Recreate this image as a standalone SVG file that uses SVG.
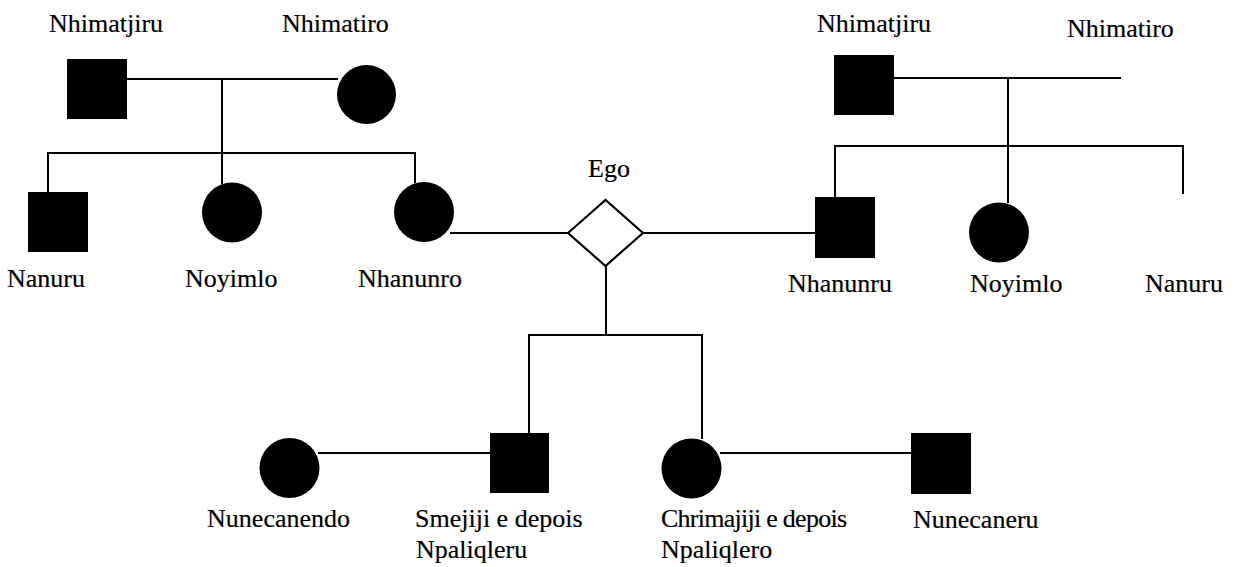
<svg xmlns="http://www.w3.org/2000/svg" width="1242" height="567" viewBox="0 0 1242 567">
  <style>
    .lbl { font-family: "Liberation Serif", "Times New Roman", serif; font-size: 26px; fill: #000; stroke: #000; stroke-width: 0.2; }
    .fill { fill: #000; }
    .link { stroke: #000; stroke-width: 2; fill: none; }
    .ego { fill: #fff; stroke: #000; stroke-width: 2.2; }
  </style>
  <rect width="1242" height="567" fill="#fff"/>

  <!-- kinship lines -->
  <g id="connectors">
    <!-- left parents and siblings -->
    <line class="link" x1="127" y1="79" x2="338" y2="79"/>
    <line class="link" x1="222" y1="79" x2="222" y2="184"/>
    <polyline class="link" points="48,193 48,153 415,153 415,183"/>
    <!-- Ego marriages -->
    <line class="link" x1="450" y1="233" x2="568" y2="233"/>
    <line class="link" x1="643" y1="233" x2="816" y2="233"/>
    <!-- right parents and siblings -->
    <line class="link" x1="894" y1="78" x2="1121" y2="78"/>
    <line class="link" x1="1008" y1="78" x2="1008" y2="203"/>
    <polyline class="link" points="835,198 835,146 1183,146 1183,194"/>
    <!-- children -->
    <line class="link" x1="606" y1="255" x2="606" y2="335"/>
    <polyline class="link" points="529,434 529,335 702,335 702,439"/>
    <line class="link" x1="318" y1="453" x2="490" y2="453"/>
    <line class="link" x1="720" y1="453" x2="912" y2="453"/>
  </g>

  <g id="n-nhimatjiru-l">
    <rect class="fill" x="67" y="59" width="60" height="60"/>
    <text class="lbl" x="49" y="32">Nhimatjiru</text>
  </g>
  <g id="n-nhimatiro-l">
    <circle class="fill" cx="366.5" cy="94.5" r="29.5"/>
    <text class="lbl" x="282" y="32">Nhimatiro</text>
  </g>
  <g id="n-nanuru-l">
    <rect class="fill" x="28" y="192" width="60" height="60"/>
    <text class="lbl" x="7" y="287">Nanuru</text>
  </g>
  <g id="n-noyimlo-l">
    <circle class="fill" cx="232" cy="212.5" r="30"/>
    <text class="lbl" x="185" y="287">Noyimlo</text>
  </g>
  <g id="n-nhanunro">
    <circle class="fill" cx="424" cy="212" r="30"/>
    <text class="lbl" x="358" y="287">Nhanunro</text>
  </g>
  <g id="n-ego">
    <polygon class="ego" points="568,233 605.5,200 643,233 605.5,266"/>
    <text class="lbl" x="588" y="177">Ego</text>
  </g>
  <g id="n-nhimatjiru-r">
    <rect class="fill" x="834" y="55" width="60" height="60"/>
    <text class="lbl" x="817" y="32">Nhimatjiru</text>
  </g>
  <g id="n-nhimatiro-r">
    <text class="lbl" x="1067" y="37">Nhimatiro</text>
  </g>
  <g id="n-nhanunru">
    <rect class="fill" x="815" y="197" width="60" height="61"/>
    <text class="lbl" x="788" y="292">Nhanunru</text>
  </g>
  <g id="n-noyimlo-r">
    <circle class="fill" cx="999" cy="232.5" r="30"/>
    <text class="lbl" x="970" y="292">Noyimlo</text>
  </g>
  <g id="n-nanuru-r">
    <text class="lbl" x="1145" y="292">Nanuru</text>
  </g>
  <g id="n-nunecanendo">
    <circle class="fill" cx="289.5" cy="468" r="30"/>
    <text class="lbl" x="350" y="527" text-anchor="end">Nunecanendo</text>
  </g>
  <g id="n-smejiji">
    <rect class="fill" x="490" y="433" width="59" height="60"/>
    <text class="lbl" x="415" y="527">Smejiji e depois</text>
    <text class="lbl" x="416" y="558">Npaliqleru</text>
  </g>
  <g id="n-chrimajiji">
    <circle class="fill" cx="691.5" cy="468.5" r="30"/>
    <text class="lbl" x="661" y="527" textLength="186" lengthAdjust="spacing">Chrimajiji e depois</text>
    <text class="lbl" x="661" y="558">Npaliqlero</text>
  </g>
  <g id="n-nunecaneru">
    <rect class="fill" x="911" y="433" width="60" height="61"/>
    <text class="lbl" x="913" y="528">Nunecaneru</text>
  </g>
</svg>
